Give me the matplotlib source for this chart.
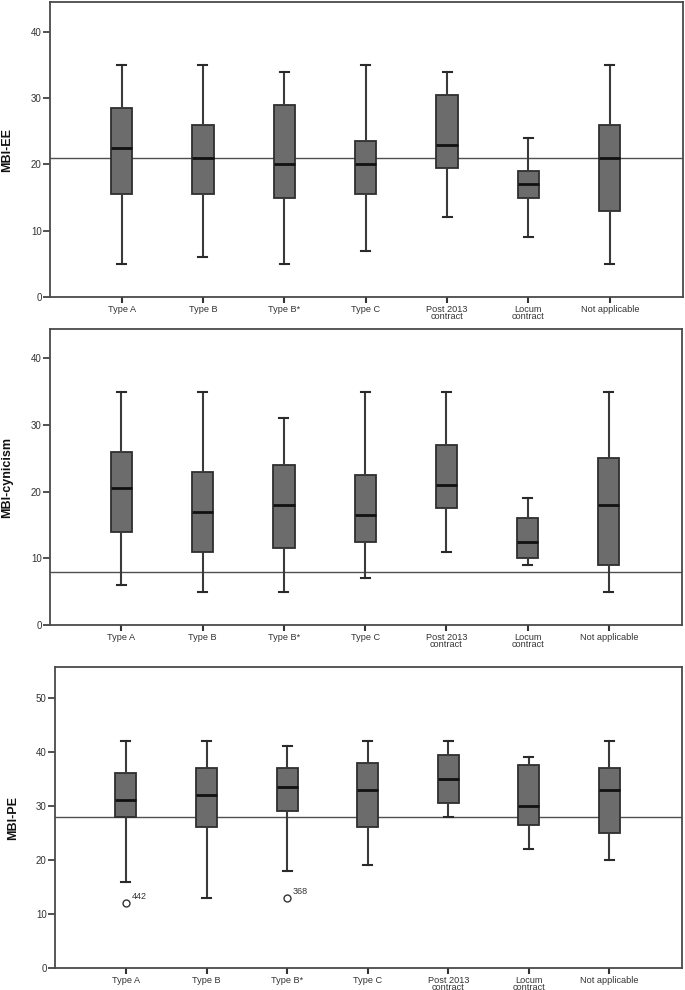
import matplotlib
matplotlib.use("Agg")
import matplotlib.pyplot as plt

plt.rcParams['font.family'] = ['Liberation Sans', 'DejaVu Sans']

categories = ["Type A", "Type B", "Type B*", "Type C", "Post 2013\ncontract",
              "Locum\ncontract", "Not applicable"]

# MBI-EE
ee_low = [5, 6, 5, 7, 12, 9, 5]
ee_q1 = [15.5, 15.5, 15, 15.5, 19.5, 15, 13]
ee_med = [22.5, 21, 20, 20, 23, 17, 21]
ee_q3 = [28.5, 26, 29, 23.5, 30.5, 19, 26]
ee_high = [35, 35, 34, 35, 34, 24, 35]
ee_ref = 21

# MBI-cynicism
cy_low = [6, 5, 5, 7, 11, 9, 5]
cy_q1 = [14, 11, 11.5, 12.5, 17.5, 10, 9]
cy_med = [20.5, 17, 18, 16.5, 21, 12.5, 18]
cy_q3 = [26, 23, 24, 22.5, 27, 16, 25]
cy_high = [35, 35, 31, 35, 35, 19, 35]
cy_ref = 8

# MBI-PE
pe_low = [16, 13, 18, 19, 28, 22, 20]
pe_q1 = [28, 26, 29, 26, 30.5, 26.5, 25]
pe_med = [31, 32, 33.5, 33, 35, 30, 33]
pe_q3 = [36, 37, 37, 38, 39.5, 37.5, 37]
pe_high = [42, 42, 41, 42, 42, 39, 42]
pe_ref = 28
pe_outliers = [[12], [], [13], [], [], [], []]
pe_outlier_ids = [["442"], [], ["368"], [], [], [], []]

W, H = 685, 990
fig = plt.figure(figsize=(W / 100, H / 100), dpi=100)

panels = [
    dict(rect=(50, 2, 683, 297), label="MBI-EE", ylim=44.5, ticks=[0, 10, 20, 30, 40],
         data=(ee_low, ee_q1, ee_med, ee_q3, ee_high), ref=ee_ref, fl=None, ids=None),
    dict(rect=(50, 329, 682, 625), label="MBI-cynicism", ylim=44.4, ticks=[0, 10, 20, 30, 40],
         data=(cy_low, cy_q1, cy_med, cy_q3, cy_high), ref=cy_ref, fl=None, ids=None),
    dict(rect=(55, 667, 682, 968), label="MBI-PE", ylim=55.7, ticks=[0, 10, 20, 30, 40, 50],
         data=(pe_low, pe_q1, pe_med, pe_q3, pe_high), ref=pe_ref, fl=pe_outliers, ids=pe_outlier_ids),
]

spine_c = "#4a4a4a"
for p in panels:
    x0, y0, x1, y1 = p["rect"]
    ax = fig.add_axes([x0 / W, 1 - y1 / H, (x1 - x0) / W, (y1 - y0) / H])
    low, q1, med, q3, high = p["data"]
    stats = []
    for i in range(len(categories)):
        d = dict(whislo=low[i], q1=q1[i], med=med[i], q3=q3[i], whishi=high[i],
                 fliers=p["fl"][i] if p["fl"] else [])
        stats.append(d)
    pos = list(range(len(categories)))
    ax.axhline(p["ref"], color="#505050", lw=1.0, zorder=1)
    ax.bxp(stats, positions=pos, widths=0.26, patch_artist=True, showfliers=True,
           boxprops=dict(facecolor="#6c6c6c", edgecolor="#2e2e2e", linewidth=1.3),
           medianprops=dict(color="#111111", linewidth=2.0),
           whiskerprops=dict(color="#3a3a3a", linewidth=1.5),
           capprops=dict(color="#2a2a2a", linewidth=1.5),
           capwidths=0.11,
           flierprops=dict(marker="o", markerfacecolor="none", markeredgecolor="#333333",
                           markersize=5, markeredgewidth=1.0),
           zorder=3)
    if p["ids"]:
        for i, (vals, ids) in enumerate(zip(p["fl"], p["ids"])):
            for v, t in zip(vals, ids):
                ax.annotate(t, (i, v), xytext=(4, 3), textcoords="offset points",
                            fontsize=6.5, color="#333333")
    ax.set_xlim(-0.88, 6.9)
    ax.set_ylim(0, p["ylim"])
    ax.set_yticks(p["ticks"])
    ax.set_xticks(pos)
    ax.set_xticklabels(categories, fontsize=6.6, color="#333333", linespacing=0.72)
    ax.tick_params(axis="y", labelsize=7, colors="#333333", length=5, width=1.2, pad=1)
    ax.tick_params(axis="x", length=4, width=1.5, pad=1.5, colors="#333333")
    for s in ax.spines.values():
        s.set_color(spine_c)
        s.set_linewidth(1.3)
    ax.set_ylabel(p["label"], fontsize=9, fontweight="bold", color="#111111", labelpad=14)
    ax.yaxis.set_label_coords(-0.058, 0.5)

fig.savefig("out.png", dpi=100, facecolor="white")
